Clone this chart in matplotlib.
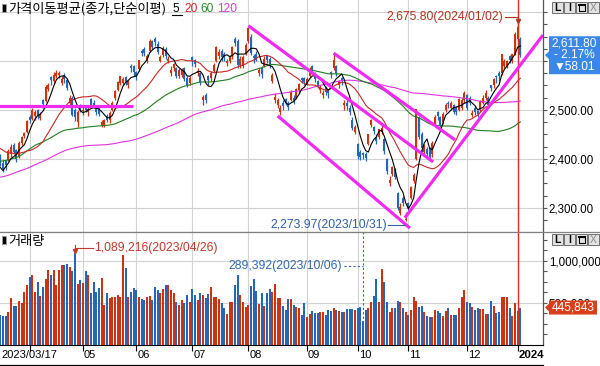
import numpy as np
import pandas as pd
import matplotlib
matplotlib.use("Agg")
import matplotlib.pyplot as plt
from matplotlib.patches import Polygon, Rectangle
from matplotlib.lines import Line2D
from matplotlib.ticker import FixedLocator, FuncFormatter

NUM = ['Liberation Sans', 'DejaVu Sans']
KOR = ['Noto Sans CJK KR', 'DejaVu Sans']
plt.rcParams['font.family'] = NUM

# ---------------------------------------------------------------- data
# closes before the visible window (for moving averages)
pre_close = [2290.00, 2220.94, 2223.86, 2169.29, 2170.93, 2155.49,
             2209.38, 2215.22, 2237.86, 2232.84, 2192.07, 2202.47, 2162.87, 2212.55, 2219.71, 2249.95,
             2237.86, 2218.09, 2213.12, 2236.16, 2235.07, 2237.44, 2267.85, 2268.40, 2293.61,
             2335.22, 2336.71, 2329.17, 2348.95, 2371.79, 2399.04, 2424.41, 2402.29, 2483.16, 2474.65,
             2480.33, 2477.45, 2442.90, 2451.19, 2419.50, 2405.27, 2418.01, 2441.33, 2437.86, 2408.27,
             2433.39, 2472.53,
             2479.84, 2434.33, 2419.32, 2393.16, 2382.81, 2371.08, 2389.04, 2373.36, 2399.25, 2372.40,
             2360.70, 2360.08, 2352.17, 2333.37, 2328.95, 2356.73, 2313.69, 2317.14, 2332.79, 2280.45, 2236.40,
             2225.67, 2218.68, 2255.98, 2264.65, 2289.97, 2350.19, 2351.31, 2359.88, 2365.10, 2386.09,
             2399.86, 2379.39, 2368.32, 2380.34, 2395.26, 2428.57, 2468.65, 2484.02, 2450.47, 2425.08,
             2449.80, 2468.88, 2480.40, 2438.19, 2452.70, 2483.64, 2481.52, 2469.73, 2452.25, 2465.64,
             2427.90, 2475.48, 2451.21, 2455.12, 2458.96, 2417.68, 2439.16, 2423.61, 2405.63, 2412.85,
             2431.91, 2432.07, 2462.62, 2463.35, 2431.91, 2432.08, 2394.59, 2410.60, 2348.97, 2379.72, 2377.91]

opens = [2405, 2392, 2396, 2398, 2410, 2428, 2418, 2405, 2432, 2446,
         2455, 2485, 2482, 2488, 2500, 2484, 2520, 2518, 2542, 2568,
         2560, 2570, 2572, 2556, 2572, 2562, 2515, 2525, 2500, 2475,
         2510, 2497, 2505, 2495, 2522, 2515, 2505, 2505, 2470, 2470,
         2488, 2480, 2500, 2525, 2540, 2556, 2555, 2568, 2550, 2590,
         2590, 2578, 2583, 2620, 2625, 2600, 2620, 2640, 2645, 2635,
         2600, 2612, 2625, 2600, 2575, 2585, 2585, 2570, 2572, 2585,
         2565, 2555, 2608, 2602, 2575, 2575, 2520, 2530, 2570, 2565,
         2580, 2600, 2610, 2620, 2615, 2595, 2600, 2610, 2645, 2640,
         2592, 2590, 2615, 2640, 2650, 2610, 2615, 2575, 2585, 2590,
         2610, 2605, 2560, 2520, 2510, 2495, 2515, 2522, 2515, 2520,
         2525, 2525, 2540, 2565, 2565, 2555, 2570, 2590, 2575, 2560,
         2540, 2530, 2545, 2540, 2578, 2585, 2590, 2550, 2565, 2510,
         2515, 2505, 2480, 2455, 2430, 2415, 2412, 2410, 2430, 2470,
         2465, 2445, 2445, 2455, 2440, 2400, 2350, 2370, 2380, 2330,
         2290, 2320, 2276, 2310, 2320, 2355, 2400, 2485, 2450, 2415,
         2420, 2420, 2410, 2470, 2495, 2485, 2475, 2500, 2515, 2505,
         2510, 2505, 2500, 2505, 2520, 2530, 2525, 2490, 2505, 2498,
         2500, 2515, 2525, 2525, 2550, 2550, 2570, 2575, 2575, 2590,
         2590, 2610, 2600, 2615, 2645, 2645]

highs = [2410, 2398, 2397, 2420, 2430, 2432, 2420, 2436, 2447, 2456,
         2479, 2490, 2504, 2500, 2503, 2495, 2522, 2550, 2555, 2570,
         2577, 2582, 2580, 2570, 2576, 2565, 2530, 2528, 2505, 2499,
         2512, 2506, 2510, 2507, 2524, 2520, 2508, 2508, 2480, 2482,
         2492, 2497, 2518, 2540, 2560, 2570, 2567, 2570, 2562, 2593,
         2592, 2580, 2603, 2625, 2628, 2615, 2645, 2642, 2648, 2640,
         2612, 2630, 2628, 2610, 2590, 2596, 2588, 2585, 2585, 2588,
         2570, 2570, 2610, 2605, 2585, 2578, 2530, 2535, 2572, 2580,
         2595, 2630, 2625, 2625, 2618, 2605, 2612, 2630, 2650, 2645,
         2610, 2612, 2636, 2668, 2655, 2615, 2620, 2585, 2590, 2610,
         2612, 2608, 2575, 2535, 2525, 2510, 2520, 2525, 2518, 2540,
         2530, 2545, 2555, 2568, 2568, 2568, 2588, 2592, 2578, 2562,
         2552, 2540, 2548, 2542, 2580, 2616, 2592, 2562, 2568, 2520,
         2520, 2510, 2485, 2470, 2432, 2418, 2415, 2415, 2452, 2482,
         2468, 2450, 2462, 2470, 2442, 2402, 2365, 2385, 2382, 2333,
         2310, 2325, 2292, 2312, 2345, 2372, 2502.4, 2488, 2455, 2430,
         2425, 2425, 2436, 2490, 2498, 2488, 2495, 2515, 2518, 2518,
         2512, 2508, 2524, 2525, 2538, 2532, 2528, 2500, 2508, 2500,
         2520, 2530, 2540, 2528, 2552, 2565, 2572, 2580, 2615, 2605,
         2603, 2612, 2615, 2660, 2675.80, 2648]

lows = [2385, 2373, 2378, 2396, 2405, 2410, 2394, 2403, 2428, 2442,
        2453, 2474, 2479, 2480, 2482, 2480, 2505, 2516, 2538, 2552,
        2555, 2565, 2566, 2550, 2555, 2540, 2510, 2487, 2478, 2466,
        2495, 2490, 2495, 2488, 2506, 2505, 2490, 2488, 2466, 2465,
        2475, 2474, 2498, 2520, 2538, 2552, 2550, 2550, 2545, 2578,
        2570, 2562, 2580, 2610, 2610, 2595, 2618, 2625, 2630, 2615,
        2598, 2608, 2605, 2596, 2570, 2580, 2565, 2566, 2568, 2560,
        2547, 2550, 2590, 2588, 2570, 2550, 2510, 2515, 2550, 2560,
        2575, 2598, 2605, 2600, 2600, 2590, 2595, 2605, 2630, 2585,
        2585, 2585, 2612, 2636, 2612, 2595, 2600, 2570, 2565, 2588,
        2595, 2585, 2555, 2515, 2505, 2490, 2500, 2510, 2500, 2518,
        2512, 2522, 2535, 2555, 2550, 2550, 2568, 2578, 2558, 2545,
        2535, 2525, 2530, 2525, 2565, 2582, 2570, 2545, 2550, 2500,
        2500, 2490, 2460, 2450, 2400, 2398, 2400, 2396, 2428, 2465,
        2450, 2430, 2440, 2452, 2410, 2370, 2345, 2365, 2360, 2295,
        2285, 2305, 2273.97, 2295, 2318, 2350, 2398, 2440, 2415, 2410,
        2402, 2400, 2405, 2468, 2480, 2465, 2472, 2495, 2505, 2500,
        2492, 2490, 2497, 2500, 2515, 2500, 2510, 2485, 2490, 2485,
        2495, 2512, 2520, 2505, 2538, 2545, 2555, 2560, 2572, 2585,
        2585, 2595, 2595, 2612, 2641, 2608]

closes = [2395.7, 2379.2, 2388.4, 2417.0, 2424.5, 2415.0, 2400.5, 2433.3, 2444.2, 2453.2,
          2476.9, 2480.5, 2500.5, 2495.1, 2490.4, 2491.0, 2512.1, 2547.9, 2550.3, 2561.7,
          2571.5, 2575.9, 2575.1, 2562.6, 2563.5, 2544.4, 2523.5, 2489.0, 2484.8, 2495.8,
          2501.5, 2500.9, 2500.7, 2501.2, 2510.1, 2510.1, 2496.5, 2491.0, 2475.4, 2479.4,
          2480.2, 2494.7, 2515.3, 2537.8, 2557.1, 2568.4, 2563.4, 2554.7, 2558.8, 2585.5,
          2577.1, 2569.2, 2601.4, 2615.4, 2615.7, 2610.4, 2641.2, 2629.4, 2638.0, 2619.1,
          2608.5, 2625.8, 2609.5, 2604.9, 2582.6, 2593.0, 2570.1, 2582.2, 2581.7, 2564.2,
          2551.0, 2564.3, 2602.5, 2593.3, 2579.0, 2556.3, 2526.7, 2520.7, 2561.2, 2574.7,
          2591.5, 2628.3, 2619.0, 2607.5, 2608.2, 2600.4, 2609.8, 2629.0, 2636.5, 2592.4,
          2603.8, 2608.3, 2632.6, 2667.1, 2616.5, 2605.4, 2602.8, 2580.7, 2574.0, 2605.1,
          2601.6, 2591.3, 2570.9, 2525.6, 2519.9, 2504.5, 2508.8, 2515.0, 2505.5, 2537.7,
          2519.1, 2543.4, 2552.2, 2561.2, 2556.3, 2563.7, 2584.6, 2582.2, 2563.3, 2548.3,
          2547.7, 2535.6, 2536.6, 2534.7, 2572.9, 2601.3, 2574.7, 2559.2, 2559.7, 2515.0,
          2508.1, 2495.8, 2463.0, 2465.1, 2405.7, 2403.6, 2408.7, 2402.6, 2450.1, 2479.8,
          2456.2, 2436.2, 2460.2, 2462.6, 2415.8, 2375.0, 2357.0, 2383.5, 2363.2, 2299.1,
          2302.8, 2310.6, 2278.0, 2301.6, 2343.1, 2368.3, 2502.4, 2444.0, 2421.6, 2427.1,
          2409.7, 2403.8, 2433.3, 2486.7, 2488.2, 2469.9, 2491.2, 2510.4, 2511.7, 2515.0,
          2496.6, 2495.7, 2521.8, 2519.8, 2535.3, 2505.0, 2515.0, 2494.3, 2495.4, 2492.1,
          2517.9, 2525.4, 2535.3, 2510.7, 2544.2, 2563.6, 2566.9, 2568.6, 2614.3, 2600.0,
          2599.5, 2602.6, 2613.5, 2655.3, 2669.81, 2611.80]

# volume, thousands of the displayed unit
volume_k = [357, 349, 345, 389, 556, 468, 468, 524, 496, 627,
            714, 814, 833, 627, 746, 583, 694, 786, 893, 833,
            893, 714, 893, 952, 952, 964, 933, 885, 1089.216, 726,
            774, 734, 881, 833, 615, 746, 635, 675, 794, 476,
            623, 556, 567, 567, 595, 575, 1071, 913, 575, 635,
            675, 655, 575, 544, 536, 575, 583, 536, 687, 655,
            615, 667, 714, 714, 655, 615, 510, 476, 536, 496,
            595, 516, 663, 595, 536, 623, 595, 556, 603, 687,
            575, 567, 548, 496, 437, 369, 508, 516, 714, 833,
            595, 512, 456, 476, 702, 786, 643, 488, 615, 464,
            615, 667, 627, 722, 556, 556, 464, 417, 545, 545,
            476, 456, 437, 357, 496, 337, 369, 409, 377, 377,
            397, 397, 357, 417, 409, 437, 417, 405, 397, 397,
            425, 425, 425, 417, 437, 456, 289.392, 417, 444, 516,
            583, 786, 508, 905, 750, 512, 397, 437, 437, 524,
            516, 437, 397, 357, 420, 575, 524, 456, 464, 397,
            345, 333, 333, 417, 405, 377, 345, 400, 437, 357,
            357, 357, 437, 575, 655, 512, 500, 456, 417, 437,
            425, 425, 369, 369, 524, 464, 381, 397, 575, 575,
            575, 444, 345, 500, 405, 445.843]

month_idx = [11, 31, 51, 72, 93, 115, 134, 153, 175, 194]
month_labels = ['', '05', '06', '07', '08', '09', '10', '11', '12', '2024']
first_label = '2023/03/17'
max_date = '2024/01/02'
min_date = '2023/10/31'
vmax_date = '2023/04/26'
vmin_date = '2023/10/06'
ma_periods = [120, 60, 20, 5]
trend_lines = [((-1, 2508), (49.7, 2508)),
               ((93, 2672), (162.3, 2394)),
               ((104, 2488), (153.6, 2259)),
               ((125, 2616), (170.5, 2439)),
               ((151.7, 2280), (203.5, 2653))]
price_ticks = [2300, 2400, 2500, 2600, 2700]
price_labelled = [2300, 2400, 2500]          # the others sit under the value box / buttons
volume_ticks = [500000, 1000000]

# ---------------------------------------------------------------- style
RED = '#CC3311'
BLUE = '#2566B8'
MA_COL = {5: '#000000', 20: '#C42828', 60: '#1E7F1E', 120: '#DD33DD'}
TREND = '#F02AF0'
GRID = '#D2D2D2'
AXC = '#555555'

W, H = 600, 366
fig = plt.figure(figsize=(W / 100, H / 100), dpi=100)
fig.patch.set_facecolor('white')


def fx(x):
    return x / W


def fy(y):
    return 1 - y / H


AX_R = 543
ax1 = fig.add_axes([0, fy(232), fx(AX_R), 232 / H])
ax2 = fig.add_axes([0, fy(345), fx(AX_R), (345 - 232) / H])

o, h, l, c = (np.array(v, dtype=float) for v in (opens, highs, lows, closes))
vol = np.round(np.array(volume_k) * 1000).astype(int)
idx = np.arange(len(c))
col = np.where(c >= o, RED, BLUE)

for ax in (ax1, ax2):
    ax.set_xlim(-0.125, 203.5)
    ax.set_facecolor('white')
    for s in ('left', 'top'):
        ax.spines[s].set_visible(False)
    ax.spines['right'].set_color(AXC)
    ax.spines['right'].set_linewidth(0.9)
    ax.yaxis.tick_right()
    ax.set_xticks(month_idx)
    ax.grid(True, color=GRID, lw=0.8, zorder=0)
    ax.set_axisbelow(True)
    ax.tick_params(axis='y', which='both', direction='out', length=3.2, width=0.8,
                   color=AXC, labelsize=8.3, pad=1)

# ---- price panel
ax1.set_ylim(2251, 2724.5)
ax1.set_yticks(price_ticks)
ax1.yaxis.set_minor_locator(FixedLocator(np.arange(2250, 2725, 25)))
ax1.yaxis.set_major_formatter(FuncFormatter(
    lambda v, p: f'{v:,.2f}' if round(v) in price_labelled else ''))
ax1.tick_params(axis='x', length=0, labelbottom=False)
ax1.spines['bottom'].set_color('#808080')

ax1.axvline(194, color='#E02828', lw=1.0, zorder=1.5)
ax1.vlines(idx, l, h, colors=col, lw=0.9, zorder=3)
body = np.maximum(np.abs(c - o), 0.8)
ax1.bar(idx, body, bottom=np.minimum(o, c), width=0.8, color=col, lw=0, zorder=3)

allc = pd.Series(pre_close + closes)
for n in ma_periods:
    ma = allc.rolling(n).mean().values[len(pre_close):]
    ax1.plot(idx, ma, color=MA_COL[n], lw=0.8, zorder=4)

for (x0, y0), (x1, y1) in trend_lines:
    ax1.plot([x0, x1], [y0, y1], color=TREND, lw=2.3, solid_capstyle='butt', zorder=5)

# ---- volume panel
ax2.set_ylim(0, 1345000)
ax2.set_yticks(volume_ticks)
ax2.yaxis.set_minor_locator(FixedLocator(np.arange(125000, 1345000, 125000)))
ax2.yaxis.set_major_formatter(FuncFormatter(lambda v, p: f'{v:,.0f}'))
ax2.spines['bottom'].set_color('#000000')
ax2.tick_params(axis='x', direction='out', length=4.3, width=0.8, color='#000000',
                labelbottom=False)
ax2.axvline(194, color='#E02828', lw=1.0, zorder=1.5)
ax2.bar(idx, vol, width=0.72, color=col, lw=0, zorder=3)


# ---------------------------------------------------------------- overlay helpers
def to_px(ax, x, y):
    X, Y = ax.transData.transform((x, y))
    return X, H - Y


def fline(xs, ys, **kw):
    fig.add_artist(Line2D([fx(v) for v in xs], [fy(v) for v in ys],
                          transform=fig.transFigure, **kw))


def ftext(x, y, s, **kw):
    fig.text(fx(x), fy(y), s, **kw)


def fpoly(pts, **kw):
    fig.add_artist(Polygon([(fx(a), fy(b)) for a, b in pts], closed=True,
                           transform=fig.transFigure, **kw))


def frect(x, y, w, hh, **kw):
    fig.add_artist(Rectangle((fx(x), fy(y + hh)), w / W, hh / H,
                             transform=fig.transFigure, **kw))


# panel separator across full width
fline([0, W], [232, 232], color='#808080', lw=0.9)
fline([0, AX_R], [365, 365], color='#000000', lw=0.9)

# x labels
X0, _ = to_px(ax2, 0, 0)
ftext(X0 + 1.5, 355, first_label, ha='left', va='center', fontsize=8)
for i, lab in zip(month_idx, month_labels):
    if lab:
        X, _ = to_px(ax2, i, 0)
        ftext(X + 1, 355, lab, ha='left', va='center', fontsize=8.2 if lab == '2024' else 8,
              fontweight='bold' if lab == '2024' else 'normal')

# headers
for ytop in (4, 236):
    frect(1.5, ytop, 5.5, 9, facecolor='#9A9A9A', edgecolor='none')
    frect(2.5, ytop + 1, 3, 7, facecolor='#000000', edgecolor='none')
ftext(8, 8.5, '가격이동평균(종가,단순이평)', family=KOR, fontsize=9.5, ha='left', va='center')
ftext(172.5, 8.5, '5', fontsize=8.6, ha='left', va='center', color='#000000')
fline([172, 182], [14.5, 14.5], color='#000000', lw=0.8)
ftext(184, 8.5, '20', fontsize=8.6, ha='left', va='center', color='#D02828')
ftext(200, 8.5, '60', fontsize=8.6, ha='left', va='center', color='#228B22')
ftext(217, 8.5, '120', fontsize=8.6, ha='left', va='center', color='#D43CD4')
ftext(8, 241, '거래량', family=KOR, fontsize=9.5, ha='left', va='center')


# window buttons
def buttons(ytop):
    xs = [552, 564, 576, 587.5]
    for x in xs:
        frect(x, ytop, 11, 11, facecolor='#E2E2E2', edgecolor='#707070', lw=0.7)
    ftext(557.5, ytop + 5.8, 'L', ha='center', va='center', fontsize=7.5, fontweight='bold')
    ftext(569.5, ytop + 5.8, 'I', ha='center', va='center', fontsize=7.5, fontweight='bold')
    frect(578.5, ytop + 2.5, 6, 6, facecolor='none', edgecolor='#000000', lw=0.8)
    fline([578.5, 584.5], [ytop + 3.2, ytop + 3.2], color='#000000', lw=1.4)
    ftext(593, ytop + 5.8, 'X', ha='center', va='center', fontsize=7.5, color='#8A8A8A')


buttons(2)
buttons(234)

# current price box
last, prev = c[-1], c[-2]
diff = last - prev
pct = diff / prev * 100
_, yc = to_px(ax1, 0, last)
fpoly([(545, yc), (549, yc - 4), (549, yc - 19), (600, yc - 19), (600, yc + 19),
       (549, yc + 19), (549, yc + 4)], facecolor='#3B87E8', edgecolor='none')
sign = '-' if diff < 0 else '+'
arrow = '▼' if diff < 0 else '▲'
ftext(574, yc - 12, f'{last:,.2f}', ha='center', va='center', color='white', fontsize=8.6)
ftext(574, yc - 0.5, f'{sign} {abs(pct):.2f}%', ha='center', va='center', color='white', fontsize=8.6)
ftext(574, yc + 12, f'{arrow}{abs(diff):.2f}', ha='center', va='center', color='white', fontsize=8.6)

# current volume box
_, yv = to_px(ax2, 0, vol[-1])
fpoly([(545, yv), (549, yv - 4), (549, yv - 7), (597, yv - 7), (597, yv + 7),
       (549, yv + 7), (549, yv + 4)], facecolor='#D8401C', edgecolor='none')
ftext(573, yv, f'{vol[-1]:,}', ha='center', va='center', color='white', fontsize=8.6)

# max / min price annotations
ANN = 8.8
imax = int(np.argmax(h))
X, Y = to_px(ax1, imax, h[imax])
ftext(X - 14, Y - 7, f'{h[imax]:,.2f}({max_date})', ha='right', va='center',
      color='#B4321E', fontsize=ANN)
fline([X - 13, X], [Y - 7, Y - 7], color='#B4321E', lw=0.8)
fline([X, X], [Y - 7, Y - 3], color='#B4321E', lw=0.8)
fline([X], [Y - 2.5], color='#B4321E', marker='v', markersize=3, lw=0)

imin = int(np.argmin(l))
X, Y = to_px(ax1, imin, l[imin])
ftext(X - 19, Y + 4, f'{l[imin]:,.2f}({min_date})', ha='right', va='center',
      color='#2F5FA6', fontsize=ANN)
fline([X - 18, X - 1], [Y + 4, Y + 4], color='#2F5FA6', lw=0.8)

# max / min volume annotations
ivmax = int(np.argmax(vol))
X, Y = to_px(ax2, ivmax, vol[ivmax])
ftext(X + 19, Y - 5, f'{vol[ivmax]:,}({vmax_date})', ha='left', va='center',
      color='#C0392B', fontsize=ANN)
fline([X + 1, X + 18], [Y - 5, Y - 5], color='#C0392B', lw=0.8)
fline([X, X], [Y - 8, Y - 2], color='#C0392B', lw=0.8)
fline([X], [Y - 2], color='#C0392B', marker='v', markersize=3, lw=0)

ivmin = int(np.argmin(vol))
X, Y = to_px(ax2, ivmin, vol[ivmin])
ax2.axvline(ivmin, color='#2F6AAE', lw=0.8, ls=(0, (2, 2)), zorder=4)
ftext(X - 21, Y - 55, f'{vol[ivmin]:,}({vmin_date})', ha='right', va='center',
      color='#2F6AAE', fontsize=ANN)
fline([X - 19, X], [Y - 55, Y - 55], color='#2F6AAE', lw=0.8, ls=(0, (2, 2)))

fig.savefig('out.png', dpi=100, facecolor='white')
